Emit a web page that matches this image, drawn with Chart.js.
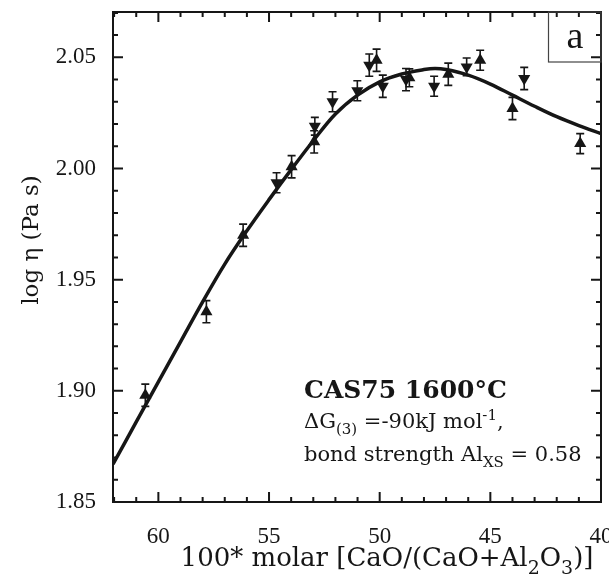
<!DOCTYPE html>
<html>
<head>
<meta charset="utf-8">
<script src="https://cdn.jsdelivr.net/npm/chart.js@4.4.0/dist/chart.umd.min.js"></script>
<style>
  html, body { margin: 0; padding: 0; background: #fff; }
  #wrap { width: 609px; height: 575px; }
</style>
</head>
<body>
<div id="wrap"><canvas id="chart" width="609" height="575"></canvas></div>
<script>
const upX = [60.59, 57.83, 56.17, 53.98, 52.96, 50.14, 48.66, 46.90, 45.46, 44.00, 40.94];
const upY = [1.898, 1.9356, 1.970, 2.0008, 2.012, 2.0487, 2.0408, 2.0424, 2.0487, 2.027, 2.0112];
const upErr = [0.005, 0.005, 0.005, 0.005, 0.005, 0.005, 0.004, 0.005, 0.0045, 0.005, 0.0045];

const downX = [54.66, 52.93, 52.13, 51.01, 50.47, 49.86, 48.81, 47.54, 46.07, 43.47];
const downY = [1.9936, 2.019, 2.030, 2.035, 2.0465, 2.037, 2.040, 2.037, 2.0457, 2.0405];
const downErr = [0.0045, 0.004, 0.0045, 0.0045, 0.005, 0.005, 0.005, 0.0045, 0.004, 0.005];

// model curve
const fitX = [62.05, 61, 60, 59, 58, 57, 56, 55, 54, 53, 52, 51, 50, 49, 48, 47.5, 47, 46, 45, 44, 43, 42, 41, 40];
const fitY = [1.867, 1.886, 1.904, 1.922, 1.940, 1.957, 1.972, 1.986, 1.9995, 2.0125, 2.0245, 2.033, 2.039, 2.0425,
              2.0445, 2.045, 2.0445, 2.042, 2.038, 2.033, 2.028, 2.0233, 2.0193, 2.0157];

const xTicks = [60, 55, 50, 45, 40];
const yTicks = [1.85, 1.90, 1.95, 2.00, 2.05];

const INK = '#161616';
const SERIF = '"DejaVu Serif", serif';
const NUMF = '"Liberation Serif", serif';

function pts(xs, ys) { return xs.map((x, i) => ({ x: x, y: ys[i] })); }

// no extra room for overhanging tick labels
function noPad(s) { s.paddingLeft = 0; s.paddingRight = 0; s.paddingTop = 0; s.paddingBottom = 0; }

// draws a line of text with sub/superscript pieces
function drawRich(ctx, parts, x, y, size, family, align, weight) {
  const w = weight ? weight + ' ' : '';
  const fontFor = k => w + (k === 'n' ? size : Math.round(size * 0.72)) + 'px ' + family;
  let total = 0;
  parts.forEach(p => { ctx.font = fontFor(p[1]); total += ctx.measureText(p[0]).width; });
  let cx = align === 'center' ? x - total / 2 : x;
  parts.forEach(p => {
    ctx.font = fontFor(p[1]);
    const dy = p[1] === 'sub' ? size * 0.3 : (p[1] === 'sup' ? -size * 0.38 : 0);
    ctx.fillText(p[0], cx, y + dy);
    cx += ctx.measureText(p[0]).width;
  });
}

// error bars for the two marker series
const errorBars = {
  id: 'errorBars',
  afterDatasetsDraw(chart) {
    const ctx = chart.ctx, xs = chart.scales.x, ys = chart.scales.y;
    ctx.save();
    ctx.strokeStyle = INK;
    ctx.lineWidth = 1.6;
    [[upX, upY, upErr], [downX, downY, downErr]].forEach(set => {
      set[0].forEach((xv, i) => {
        const px = xs.getPixelForValue(xv);
        const t = ys.getPixelForValue(set[1][i] + set[2][i]);
        const b = ys.getPixelForValue(set[1][i] - set[2][i]);
        ctx.beginPath();
        ctx.moveTo(px, t); ctx.lineTo(px, b);
        ctx.moveTo(px - 4, t); ctx.lineTo(px + 4, t);
        ctx.moveTo(px - 4, b); ctx.lineTo(px + 4, b);
        ctx.stroke();
      });
    });
    ctx.restore();
  }
};

// frame, inward ticks, labels and annotation
const frame = {
  id: 'frame',
  afterDraw(chart) {
    const ctx = chart.ctx, a = chart.chartArea, xs = chart.scales.x, ys = chart.scales.y;
    ctx.save();
    ctx.strokeStyle = INK;
    ctx.lineWidth = 2;
    ctx.strokeRect(a.left, a.top, a.right - a.left, a.bottom - a.top);

    ctx.beginPath();
    for (let v = 40; v <= 62; v++) {
      const px = xs.getPixelForValue(v);
      const len = v % 5 === 0 ? 10 : 5;
      ctx.moveTo(px, a.bottom); ctx.lineTo(px, a.bottom - len);
      ctx.moveTo(px, a.top); ctx.lineTo(px, a.top + len);
    }
    for (let k = 185; k <= 207; k++) {
      const py = ys.getPixelForValue(k / 100);
      const len = k % 5 === 0 ? 10 : 5;
      ctx.moveTo(a.left, py); ctx.lineTo(a.left + len, py);
      ctx.moveTo(a.right, py); ctx.lineTo(a.right - len, py);
    }
    ctx.stroke();

    // panel letter box
    ctx.lineWidth = 1.2;
    ctx.strokeStyle = '#444';
    ctx.strokeRect(a.right - 52.5, a.top, 52.5, 50);
    ctx.fillStyle = INK;
    ctx.font = '38px ' + NUMF;
    ctx.textAlign = 'center';
    ctx.textBaseline = 'alphabetic';
    ctx.fillText('a', a.right - 26, a.top + 36);

    // annotation
    ctx.textAlign = 'left';
    drawRich(ctx, [['CAS75 1600°C', 'n']], 304, 398, 25, SERIF, 'left', 'bold');
    drawRich(ctx, [['ΔG', 'n'], ['(3)', 'sub'], [' =-90kJ mol', 'n'], ['-1', 'sup'], [',', 'n']], 304, 428, 21, SERIF, 'left');
    drawRich(ctx, [['bond strength Al', 'n'], ['XS', 'sub'], [' = 0.58', 'n']], 304, 461, 21, SERIF, 'left');

    // axis titles
    drawRich(ctx, [['100* molar [CaO/(CaO+Al', 'n'], ['2', 'sub'], ['O', 'n'], ['3', 'sub'], [')]', 'n']], 387, 566, 26, SERIF, 'center');
    ctx.translate(32, 240);
    ctx.rotate(-Math.PI / 2);
    ctx.textAlign = 'center';
    ctx.textBaseline = 'middle';
    ctx.font = '23px ' + SERIF;
    ctx.fillText('log η (Pa s)', 0, 0);
    ctx.restore();
  }
};

new Chart(document.getElementById('chart'), {
  type: 'scatter',
  data: {
    datasets: [
      {
        label: 'up', data: pts(upX, upY), pointStyle: 'triangle', pointRadius: 7,
        backgroundColor: INK, borderColor: INK, borderWidth: 0
      },
      {
        label: 'down', data: pts(downX, downY), pointStyle: 'triangle', pointRotation: 180, pointRadius: 7,
        backgroundColor: INK, borderColor: INK, borderWidth: 0
      },
      {
        label: 'model', data: pts(fitX, fitY), showLine: true, pointRadius: 0,
        borderColor: INK, borderWidth: 3.5, tension: 0.35, fill: false
      }
    ]
  },
  options: {
    responsive: false,
    animation: false,
    layout: { padding: { top: 12, right: 8, left: 0, bottom: 0 } },
    plugins: { legend: { display: false }, tooltip: { enabled: false } },
    scales: {
      x: {
        type: 'linear', reverse: true, min: 40, max: 62.05,
        afterBuildTicks: s => { s.ticks = xTicks.map(v => ({ value: v })); },
        afterFit: s => { s.height = 73; noPad(s); },
        grid: { display: false, drawTicks: false },
        border: { display: false },
        ticks: { padding: 21, color: INK, font: { family: NUMF, size: 23 }, maxRotation: 0, callback: v => String(v) }
      },
      y: {
        type: 'linear', min: 1.85, max: 2.0704,
        afterBuildTicks: s => { s.ticks = yTicks.map(v => ({ value: v })); },
        afterFit: s => { s.width = 113; noPad(s); },
        grid: { display: false, drawTicks: false },
        border: { display: false },
        ticks: { padding: 17, color: INK, font: { family: NUMF, size: 23 }, callback: v => v.toFixed(2) }
      }
    }
  },
  plugins: [errorBars, frame]
});
</script>
</body>
</html>
